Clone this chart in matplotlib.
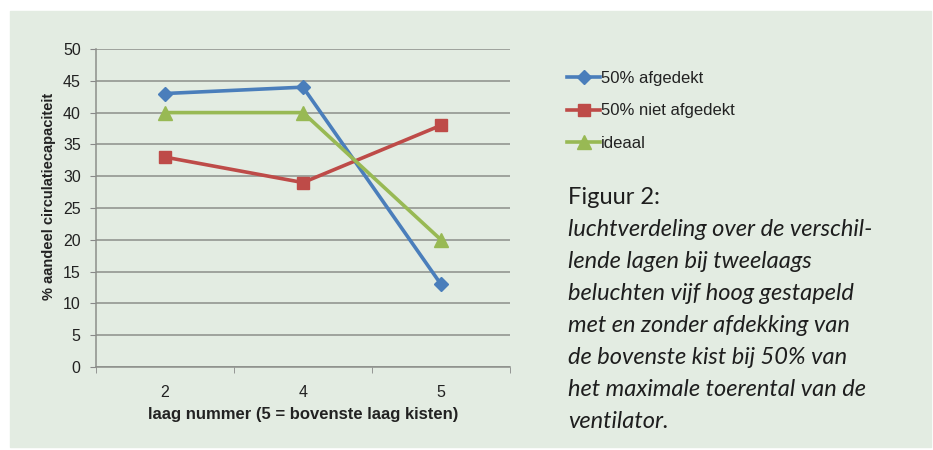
import matplotlib
matplotlib.use("Agg")
import matplotlib.pyplot as plt
from matplotlib.patches import Rectangle

# data
lagen = ["2", "4", "5"]
afgedekt = [43, 44, 13]
niet_afgedekt = [33, 29, 38]
ideaal = [40, 40, 20]

caption = [
    "luchtverdeling over de verschil-",
    "lende lagen bij tweelaags",
    "beluchten vijf hoog gestapeld",
    "met en zonder afdekking van",
    "de bovenste kist bij 50% van",
    "het maximale toerental van de",
    "ventilator.",
]

W, H = 933, 450
bg = "#e3ece2"
fig = plt.figure(figsize=(W / 100, H / 100), dpi=100, facecolor="white")
fig.patches.append(Rectangle((10 / W, 3 / H), 921 / W, 436 / H,
                             transform=fig.transFigure, color=bg, zorder=-1))

ax = fig.add_axes([96 / W, (H - 367) / H, 414 / W, 318 / H])
ax.set_facecolor("none")
ax.set_zorder(2)

x = list(range(len(lagen)))
ax.plot(x, afgedekt, color="#4a7ebb", lw=2.6, marker="D", ms=7.5,
        label="50% afgedekt", zorder=3)
ax.plot(x, niet_afgedekt, color="#be4b48", lw=2.6, marker="s", ms=8.5,
        label="50% niet afgedekt", zorder=3)
ax.plot(x, ideaal, color="#98b954", lw=2.6, marker="^", ms=9.5,
        label="ideaal", zorder=3)

ax.set_xlim(-0.5, 2.5)
ax.set_ylim(0, 50)
ax.set_yticks(range(0, 51, 5))
ax.set_xticks(x)
ax.set_xticklabels(lagen)
ax.set_xticks([-0.5, 0.5, 1.5, 2.5], minor=True)
ax.tick_params(axis="x", which="major", length=0, pad=13, labelsize=11.5,
               labelcolor="#222222")
ax.tick_params(axis="x", which="minor", length=4, color="#888888")
ax.tick_params(axis="y", length=4, color="#888888", labelsize=11.5, pad=7,
               labelcolor="#222222")
ax.grid(axis="y", color="#8c8f8a", lw=1.1, zorder=1)
for s in ["top", "right"]:
    ax.spines[s].set_visible(False)
for s in ["left", "bottom"]:
    ax.spines[s].set_color("#8c8f8a")
    ax.spines[s].set_linewidth(1.1)

ax.set_ylabel("% aandeel circulatiecapaciteit", fontsize=10.5,
              fontweight="bold", family="Liberation Sans", color="#222222")
ax.yaxis.set_label_coords(-40 / 414, 0.535)
ax.set_xlabel("laag nummer (5 = bovenste laag kisten)", labelpad=5,
              fontsize=12, fontweight="bold", family="Liberation Sans",
              color="#222222")
for t in ax.get_xticklabels() + ax.get_yticklabels():
    t.set_family("Liberation Sans")

leg = fig.legend(loc="upper left", bbox_to_anchor=(552 / W, 1 - 56 / H),
                 frameon=False, handlelength=2.0, handletextpad=0.05,
                 labelspacing=1.05,
                 prop={"family": "Liberation Sans", "size": 12})
for t in leg.get_texts():
    t.set_color("#222222")

fig.text(568 / W, 1 - 198 / H, "Figuur 2:", fontsize=17, family="Lato",
         va="center", color="#1e1e1e")
for i, line in enumerate(caption):
    fig.text(568 / W, 1 - (230 + 32 * i) / H, line, fontsize=17,
             family="Lato", style="italic", va="center", color="#1e1e1e")

fig.savefig("out.png", dpi=100, facecolor="white")
